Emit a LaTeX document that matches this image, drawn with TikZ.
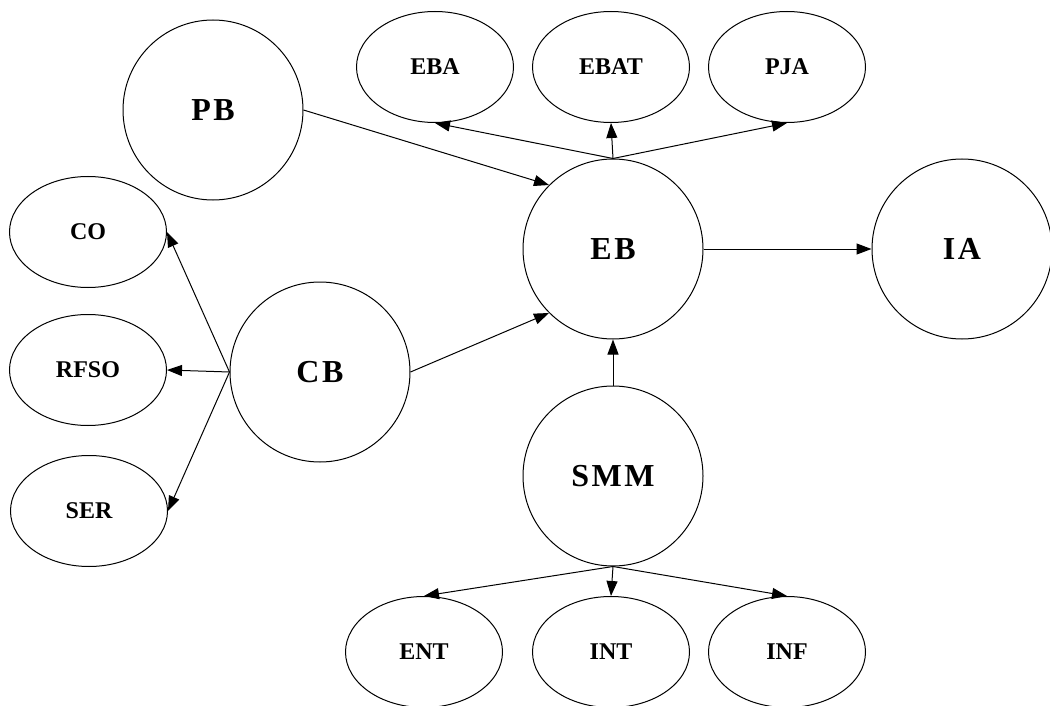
\documentclass[tikz,border=0pt]{standalone}
\usepackage{fontspec}
\setmainfont{Liberation Serif}
\newfontfamily\spacedfont[LetterSpace=8]{Liberation Serif}
\usetikzlibrary{positioning,arrows.meta,shapes.geometric}
\begin{document}
\begin{tikzpicture}[
x=1pt,y=-1pt,
node distance=18pt,
line width=1pt,
bignode/.style={draw,circle,minimum size=180pt,inner sep=0pt,font=\spacedfont\fontsize{32}{36}\selectfont\bfseries},
smallnode/.style={draw,ellipse,minimum width=157pt,minimum height=111pt,inner sep=0pt,font=\fontsize{24}{28}\selectfont\bfseries},
>={Triangle[length=15pt,width=11pt]}]
\useasboundingbox (0,0) rectangle (1050,706);
\node[bignode] (eb) at (613,249) {EB};
\node[bignode] (pb) at (213,110) {PB};
\node[bignode] (ia) at (962,249) {IA};
\node[bignode] (cb) at (320,372) {CB};
\node[bignode] (smm) at (613,476) {SMM};
\node[smallnode] (ebat) at (611,67) {EBAT};
\node[smallnode] (eba) [left=of ebat] {EBA};
\node[smallnode] (pja) [right=of ebat] {PJA};
\node[smallnode] (co) at (88,232) {CO};
\node[smallnode] (rfso) at (88,370) {RFSO};
\node[smallnode] (ser) at (89,511) {SER};
\node[smallnode] (int) at (611,652) {INT};
\node[smallnode] (ent) [left=29pt of int] {ENT};
\node[smallnode] (inf) [right=18pt of int] {INF};
\draw[->] (pb.east) -- (eb.135);
\draw[->] (eb.north) -- (eba.south);
\draw[->] (eb.north) -- (ebat.south);
\draw[->] (eb.north) -- (pja.south);
\draw[->] (eb.east) -- (ia.west);
\draw[->] (smm.north) -- (eb.south);
\draw[->] (cb.east) -- (eb.225);
\draw[->] (cb.west) -- (co.east);
\draw[->] (cb.west) -- (rfso.east);
\draw[->] (cb.west) -- (ser.east);
\draw[->] (smm.south) -- (ent.north);
\draw[->] (smm.south) -- (int.north);
\draw[->] (smm.south) -- (inf.north);
\end{tikzpicture}
\end{document}
